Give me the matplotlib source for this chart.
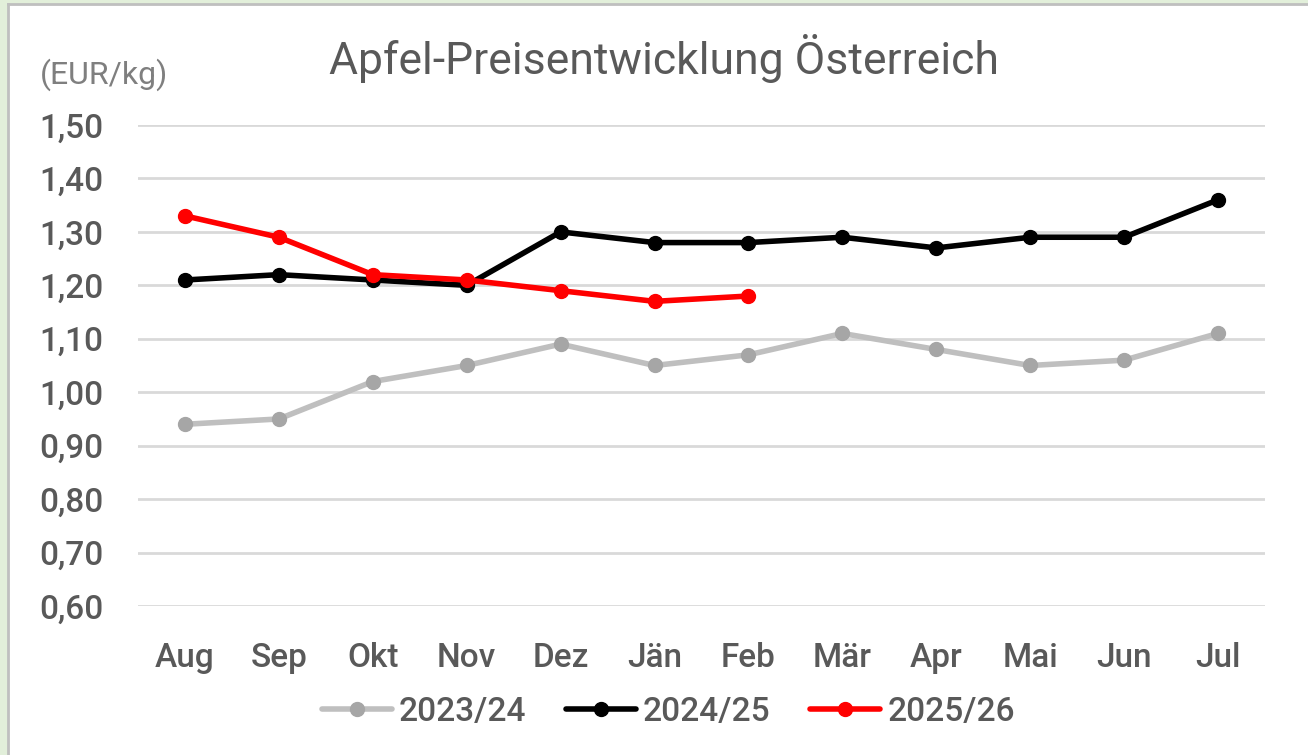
import matplotlib.pyplot as plt

months = ['Aug', 'Sep', 'Okt', 'Nov', 'Dez', 'Jän', 'Feb', 'Mär', 'Apr', 'Mai', 'Jun', 'Jul']
s2324 = [0.94, 0.95, 1.02, 1.05, 1.09, 1.05, 1.07, 1.11, 1.08, 1.05, 1.06, 1.11]
s2425 = [1.21, 1.22, 1.21, 1.20, 1.30, 1.28, 1.28, 1.29, 1.27, 1.29, 1.29, 1.36]
s2526 = [1.33, 1.29, 1.22, 1.21, 1.19, 1.17, 1.18]
yticks = [0.6, 0.7, 0.8, 0.9, 1.0, 1.1, 1.2, 1.3, 1.4, 1.5]

plt.rcParams['font.family'] = ['Roboto', 'DejaVu Sans']
plt.rcParams['font.weight'] = 'medium'
txt = '#595959'

fig = plt.figure(figsize=(13.08, 7.55), dpi=100)
fig.patch.set_facecolor('#e2efda')
# white chart area with grey border
bg = fig.add_axes([8 / 1308, -0.01, 1.02, 1 - 4 / 755 + 0.01], zorder=-1)
bg.set_xticks([])
bg.set_yticks([])
for sp in bg.spines.values():
    sp.set_color('#bfbfbf')
    sp.set_linewidth(2)

ax = fig.add_axes([138 / 1308, 1 - 606 / 755, (1265 - 138) / 1308, (606 - 125) / 755])
ax.set_facecolor('none')

x = list(range(len(months)))
ax.plot(x, s2324, color='#bfbfbf', lw=4, marker='o', ms=10, mfc='#a6a6a6', mec='#a6a6a6',
        label='2023/24', solid_capstyle='round')
ax.plot(x, s2425, color='black', lw=4, marker='o', ms=10, label='2024/25', solid_capstyle='round')
ax.plot(x[:len(s2526)], s2526, color='#ff0000', lw=4, marker='o', ms=10, label='2025/26',
        solid_capstyle='round')

ax.set_xlim(-0.5, 11.5)
ax.set_ylim(0.6, 1.5)
ax.set_yticks(yticks)
ax.set_yticklabels([f'{v:.2f}'.replace('.', ',') for v in yticks])
ax.set_xticks(x)
ax.set_xticklabels(months)
ax.tick_params(length=0, colors=txt)
ax.tick_params(axis='y', pad=25, labelsize=24)
ax.tick_params(axis='x', pad=26, labelsize=24)
ax.grid(axis='y', color='#d9d9d9', lw=2)
ax.set_axisbelow(True)
for sp in ax.spines.values():
    sp.set_visible(False)

fig.text(0.508, 1 - 74 / 755, 'Apfel-Preisentwicklung Österreich', ha='center', va='baseline',
         fontsize=32, color=txt, fontweight='normal')
fig.text(40 / 1308, 1 - 75 / 755, '(EUR/kg)', ha='left', va='center', fontsize=23,
         color='#7f7f7f', fontweight='normal')

leg = fig.legend(loc='center', bbox_to_anchor=(0.511, 1 - 712 / 755), ncol=3, frameon=False,
                 fontsize=24, handlelength=2.1, handletextpad=0.2, columnspacing=1.2)
for t in leg.get_texts():
    t.set_color(txt)

fig.savefig('out.png', dpi=100, facecolor=fig.get_facecolor())
